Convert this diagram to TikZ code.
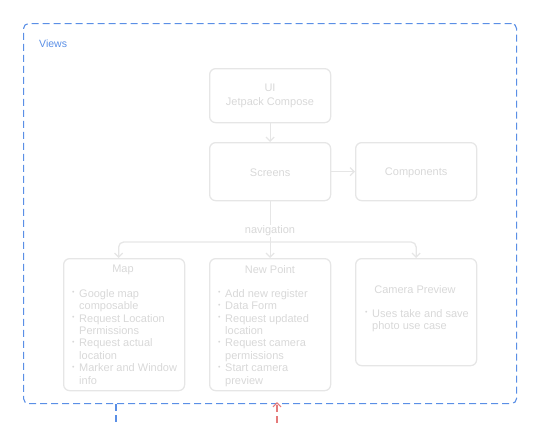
\documentclass[tikz,border=0pt]{standalone}
\usepackage{fontspec}
\setmainfont{Liberation Sans}
\usetikzlibrary{arrows.meta,calc}
\definecolor{boxline}{HTML}{E6E6E6}
\definecolor{boxtext}{HTML}{D8D8D8}
\definecolor{viewblue}{HTML}{5A8FE6}
\definecolor{arrred}{HTML}{E57A7A}
\newcommand{\bl}{\makebox[7pt][l]{\fontsize{7}{7}\selectfont\raisebox{2.5pt}{•}}}
\newcommand{\ind}{\hspace*{7pt}}
\begin{document}
\begin{tikzpicture}[x=1pt,y=-1pt,
  card/.style={draw=boxline, line width=1.3pt, rounded corners=6pt, minimum width=121pt, inner sep=0pt, anchor=north west},
  txt/.style={text=boxtext, font=\fontsize{11}{14}\selectfont, align=center, inner sep=0pt},
  lst/.style={text=boxtext, font=\fontsize{11}{12.45}\selectfont, align=left, inner sep=0pt, anchor=north west},
  conn/.style={draw=boxline, line width=1.3pt, -{Straight Barb[length=4pt,width=8pt]}},
  views/.style={draw=viewblue, line width=1.1pt, dash pattern=on 7pt off 4pt, rounded corners=5pt, inner sep=0pt, anchor=north west}
]
\useasboundingbox (0,0) rectangle (535,423);
\node[views, minimum width=493pt, minimum height=380pt] (views) at (23,23) {};
\node[anchor=base west, text=viewblue, font=\fontsize{10.5}{12}\selectfont, inner sep=0pt] (viewslbl) at (39,47) {Views};

\node[card, minimum height=54pt] (ui) at (209,68) {};
\node[txt] (uit) at (270,96) {UI\\Jetpack Compose};
\node[card, minimum height=58pt] (screens) at (209,142) {};
\node[txt] (screenst) at ([yshift=-1.5pt]screens.center) {Screens};
\node[card, minimum height=58pt] (comp) at (355,142) {};
\node[txt] (compt) at ([yshift=-1.5pt]comp.center) {Components};

\node[card, minimum height=132pt] (map) at (63,258) {};
\node[txt] (mapt) at (123,270) {Map};
\node[card, minimum height=132pt] (newp) at (209,258) {};
\node[txt] (newpt) at (270,270) {New Point};
\node[card, minimum height=107pt] (cam) at (355,258) {};
\node[txt] (camt) at (415,290) {Camera Preview};

\node[lst] (mapl) at (72,289) {\bl Google map\\ \ind composable\\ \bl Request Location\\ \ind Permissions\\ \bl Request actual\\ \ind location\\ \bl Marker and Window\\ \ind info};
\node[lst] (newpl) at (218,289) {\bl Add new register\\ \bl Data Form\\ \bl Request updated\\ \ind location\\ \bl Request camera\\ \ind permissions\\ \bl Start camera\\ \ind preview};
\node[lst] (caml) at (365,309) {\bl Uses take and save\\ \ind photo use case};

\draw[conn] (ui) -- (screens);
\draw[conn] (screens) -- (comp);
\coordinate (nav) at (270,242);
\draw[conn] (screens.south) -- (newp.north);
\draw[conn, rounded corners=5pt] (nav) -| ([xshift=-5.5pt]map.north);
\draw[conn, rounded corners=5pt] (nav) -| (cam.north);
\node[txt, fill=white, inner sep=1pt] (navl) at (270,231) {navigation};

\coordinate (blend) at (116,423);
\draw[draw=viewblue, line width=1.1pt, dash pattern=on 7pt off 4pt] (views.south -| blend) -- (blend);
\coordinate (rdend) at (277,423);
\draw[draw=arrred, line width=1.1pt, dash pattern=on 7pt off 4pt, -{Straight Barb[length=4pt,width=8pt]}] (rdend) -- ([yshift=2pt]views.south -| rdend);
\end{tikzpicture}
\end{document}
